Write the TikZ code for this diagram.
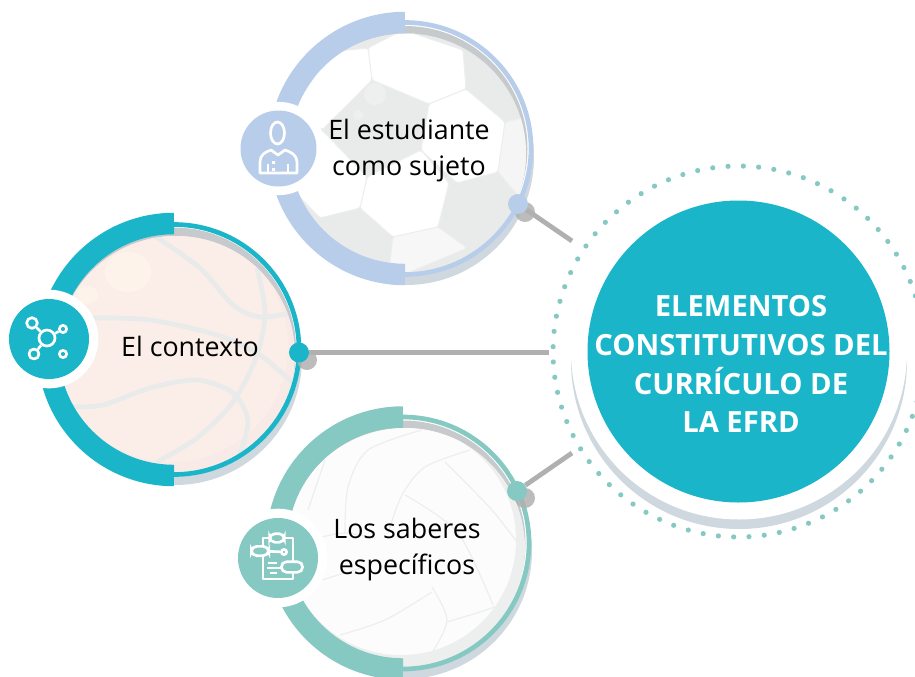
\documentclass[tikz,border=0pt]{standalone}
\usepackage{fontspec}
\setmainfont{Open Sans}
\usepackage{xcolor}
\usepackage{tikz}
\definecolor{rimblue}{HTML}{B8CDE9}
\definecolor{rimteal}{HTML}{1AB5C9}
\definecolor{rimmint}{HTML}{85C9C2}
\definecolor{linkgray}{HTML}{B0B0B0}
\definecolor{shadowblue}{HTML}{CED8DE}
\definecolor{innergray}{HTML}{C6CACC}
\definecolor{panelgray}{HTML}{E9EBEA}
\definecolor{seamgray}{HTML}{EDEEEE}
\definecolor{skinpink}{HTML}{FBEEE9}
\definecolor{skinshade}{HTML}{F8EBE7}
\definecolor{skinglow}{HTML}{FDF3EA}

\begin{document}
\begin{tikzpicture}[
  x=0.75pt,y=-0.75pt,
  label/.style={align=center,font=\fontsize{20.1}{27}\selectfont,inner sep=0pt,text=black},
  thinrim/.style={draw=#1,line width=3.5pt},
  thickrim/.style={draw=#1,line width=16.1pt},
  badge/.style={circle,fill=#1,minimum size=57pt,inner sep=0pt},
  halo/.style={circle,fill=white,minimum size=70pt,inner sep=0pt},
  joint/.style={circle,fill=#1,minimum size=15pt,inner sep=0pt},
  link/.style={draw=linkgray,line width=3.6pt},
  blob/.style={fill=linkgray,opacity=.85},
  glyph/.style={draw=white,line width=2pt,line join=round},
  pill/.style={rounded corners=4pt,draw=white,fill=rimmint,line width=2pt,inner sep=0pt},
  panel/.style={fill=white,draw=seamgray,line width=.7pt,rounded corners=2pt},
  seam/.style={draw=seamgray,line width=.9pt},
  stripe/.style={draw=panelgray,line width=3.6pt},
  hubdot/.style={fill=rimmint}
]
\useasboundingbox (0,0) rectangle (915,676);
\clip (0,0) rectangle (915,676);

% centre disc
\foreach \n in {1,...,76}
  \fill[hubdot] (738.5,351.5) ++({\n*4.7368+1.5}:185.5) circle (2.6);
\fill[shadowblue] (739,361) circle (168);
\fill[white] (739,351.5) circle (168);
\node[circle,fill=rimteal,minimum size=226.5pt,inner sep=0pt] (hub) at (738.5,351.5) {};
\node[align=center,text=white,font=\fontsize{21.9}{29.2}\bfseries\selectfont,inner sep=0pt] (hubtext) at (741,364)
  {ELEMENTOS\\CONSTITUTIVOS DEL\\CURRÍCULO DE\\LA EFRD};
\coordinate (endtop) at (572,241);
\coordinate (endmid) at (549,352.5);
\coordinate (endlow) at (572,453);

% soccer ball
\fill[shadowblue] (406,157) circle (128);
\fill[white] (405,148.5) circle (128);
\fill[innergray] (405,148.5) circle (122.5);
\fill[panelgray] (406,153.5) circle (120);
\begin{scope}
  \clip (406,153.5) circle (120);
  \filldraw[panel] (368,48)--(372,80)--(429,104)--(466,89)--(463,50)--(403,30)--cycle;
  \filldraw[panel] (429,104)--(466,89)--(505,122)--(498,172)--(457,183)--(421,150)--cycle;
  \filldraw[panel,fill=white!96!black] (505,122)--(498,172)--(522,200)--(532,150)--(523,118)--cycle;
  \filldraw[panel] (368,48)--(372,80)--(322,130)--(295,107)--(330,52)--cycle;
  \filldraw[panel] (367,177)--(421,150)--(449,183)--(438,227)--(393,237)--(360,208)--cycle;
  \filldraw[panel] (322,130)--(367,177)--(360,208)--(320,218)--(298,195)--(278,160)--cycle;
  \filldraw[panel,fill=white!97!black] (393,237)--(438,227)--(467,248)--(403,275)--(389,270)--cycle;
  \fill[white,opacity=.25] (375,94) circle (11);
  \fill[white,opacity=.25] (358,115) circle (5);
\end{scope}
\draw[thinrim=rimblue] (405,148.5) circle (126);
\draw[thickrim=rimblue] (405,274.5) arc[start angle=90,end angle=270,radius=126];
\node[halo] (haloa) at (278.5,148.5) {};
\node[badge=rimblue] (iconstudent) at (278.5,148.5) {};
\draw[glyph] (277.5,133) ellipse (7 and 11);
\draw[glyph] (260,173) -- (260,162) .. controls (260,155) and (265,152) .. (271,150)
  -- (278,155) -- (285,150) .. controls (291,152) and (297,155) .. (297,162) -- (297,173) -- cycle;
\draw[glyph] (268,173) -- (268,164) (288,173) -- (288,164);
\fill[white] (272,161) rectangle (275,164) (272,168) rectangle (275,171);
\node[label] (student) at (409,150.5) {El estudiante\\como sujeto};
\fill[blob] (525,212) circle (10);
\node[joint=rimblue] (jointtop) at (518,204) {};
\draw[link] (jointtop) -- (endtop);

% basketball
\fill[shadowblue] (175,358) circle (127);
\fill[white] (174,349.5) circle (127);
\fill[innergray] (174,349.5) circle (122);
\fill[skinshade] (176,355) circle (119);
\begin{scope}
  \clip (176,355) circle (119);
  \fill[skinpink] (172,346) circle (116);
  \fill[skinglow] (128,272) ellipse (23 and 20);
  \fill[skinglow] (87,295) ellipse (11 and 9);
  \draw[stripe] plot[smooth] coordinates {(153,235) (200,268) (233,305) (260,317) (290,313)};
  \draw[stripe] plot[smooth] coordinates {(257,268) (265,312) (257,355) (233,402) (197,438) (157,462)};
  \draw[stripe] plot[smooth] coordinates {(93,318) (150,320) (217,335) (260,355) (295,385)};
  \draw[stripe] plot[smooth] coordinates {(72,407) (103,405) (150,388) (197,380) (233,393) (248,422) (237,462)};
\end{scope}
\draw[thinrim=rimteal] (174,349.5) circle (125);
\draw[thickrim=rimteal] (174,475.5) arc[start angle=90,end angle=270,radius=126];
\node[halo,minimum size=74pt] (halob) at (49,339) {};
\node[badge=rimteal,minimum size=60pt] (iconcontext) at (49,339) {};
\node[circle,glyph,minimum size=12pt,inner sep=0pt] (netc) at (47,338) {};
\node[circle,glyph,minimum size=8pt,inner sep=0pt] (neta) at (32,323) {};
\node[circle,glyph,minimum size=5.5pt,inner sep=0pt] (netb) at (63,329) {};
\node[circle,glyph,minimum size=7.5pt,inner sep=0pt] (netd) at (34,354) {};
\node[circle,glyph,minimum size=5.5pt,inner sep=0pt] (nete) at (63,354) {};
\draw[glyph] (netc) -- (neta);
\draw[glyph] (netc) -- (netb);
\draw[glyph] (netc) -- (netd);
\node[label] (context) at (190,346) {El contexto};
\fill[blob] (307,360) circle (10);
\node[joint=rimteal] (jointmid) at (299,352.5) {};
\draw[link] (jointmid) -- (endmid);

% volleyball
\fill[shadowblue] (404,551) circle (128);
\fill[white] (403,543) circle (128);
\fill[innergray] (403,543) circle (122.5);
\fill[panelgray!80!white] (405,548) circle (120);
\begin{scope}
  \clip (405,548) circle (120);
  \fill[white!99!black] (401,540) circle (115);
  \draw[seam] plot[smooth] coordinates {(340,635) (385,620) (432,592)};
  \draw[seam] plot[smooth] coordinates {(432,587) (447,620) (432,653)};
  \draw[seam] plot[smooth] coordinates {(447,622) (492,608) (515,597)};
  \draw[seam] plot[smooth] coordinates {(445,462) (492,510) (525,553)};
  \draw[seam] plot[smooth] coordinates {(470,450) (425,467) (402,495) (388,533)};
  \draw[seam] plot[smooth] coordinates {(405,495) (458,533) (493,605)};
  \draw[seam] plot[smooth] coordinates {(422,430) (368,450) (348,487) (345,533)};
  \draw[seam] plot[smooth] coordinates {(308,510) (325,460)};
  \draw[seam] plot[smooth] coordinates {(322,537) (345,533) (375,538)};
  \draw[seam] plot[smooth] coordinates {(322,580) (338,575) (365,567)};
\end{scope}
\draw[thinrim=rimmint] (403,543) circle (126);
\draw[thickrim=rimmint] (403,669) arc[start angle=90,end angle=270,radius=126];
\node[halo,minimum size=74pt] (haloc) at (278,558) {};
\node[badge=rimmint,minimum size=60pt] (iconknow) at (278,558) {};
\draw[glyph] (263,538) rectangle (293,579);
\node[pill,minimum width=11pt,minimum height=6.5pt] (pilltop) at (277,538) {};
\node[pill,minimum width=13pt,minimum height=7pt] (pillleft) at (260,551) {};
\node[pill,minimum width=16pt,minimum height=8pt] (pillright) at (292,567) {};
\node[circle,draw=white,fill=rimmint,line width=2pt,minimum size=4pt,inner sep=0pt] (pilldot) at (284,552) {};
\draw[glyph] (pillleft) -- (pilldot);
\draw[glyph] (268,563) -- (277,563) (267,568) -- (282,568) (270,573) -- (277,573);
\node[label] (know) at (407,549.5) {Los saberes\\específicos};
\fill[blob] (525,498) circle (10);
\node[joint=rimmint] (jointlow) at (517,491) {};
\draw[link] (jointlow) -- (endlow);
\end{tikzpicture}
\end{document}
